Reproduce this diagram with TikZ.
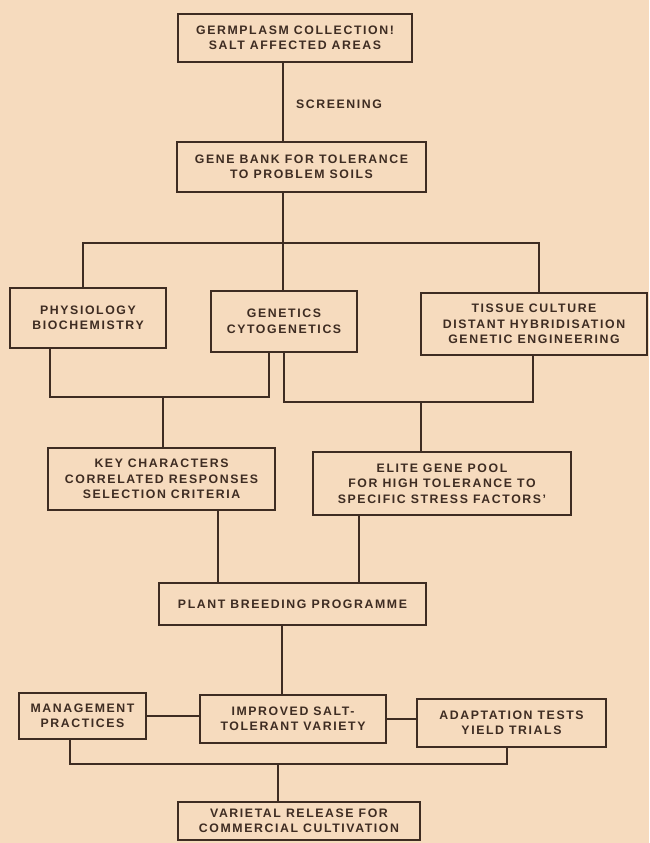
\documentclass[tikz,border=0pt]{standalone}
\usepackage{fontspec}
\setmainfont{Liberation Sans}[LetterSpace=13]
\definecolor{paper}{RGB}{246,219,190}
\definecolor{ink}{RGB}{62,44,34}
\begin{document}
\begin{tikzpicture}[x=1pt,y=-1pt,
  box/.style={draw=ink, line width=1.6pt, rectangle, inner sep=0pt, align=center,
    text=ink, font=\bfseries\fontsize{12.3}{15.5}\selectfont},
  link/.style={draw=ink, line width=1.4pt},
  lbl/.style={text=ink, font=\bfseries\fontsize{12.3}{15.5}\selectfont}]
\fill[paper] (0,0) rectangle (649,843);
\useasboundingbox (0,0) rectangle (649,843);
% boxes
\node[box, minimum width=234pt, minimum height=48pt] (b1) at (295,38) {GERMPLASM COLLECTION!\\SALT AFFECTED AREAS};
\node[box, minimum width=249pt, minimum height=50pt] (b2) at (301.5,167) {GENE BANK FOR TOLERANCE\\TO PROBLEM SOILS};
\node[box, minimum width=156pt, minimum height=60pt] (phys) at (88,318) {PHYSIOLOGY\\BIOCHEMISTRY};
\node[box, minimum width=146pt, minimum height=61pt] (gen) at (284,321.5) {GENETICS\\CYTOGENETICS};
\node[box, minimum width=226pt, minimum height=62pt] (tis) at (534,324) {TISSUE CULTURE\\DISTANT HYBRIDISATION\\GENETIC ENGINEERING};
\node[box, minimum width=227pt, minimum height=62pt] (key) at (161.5,479) {KEY CHARACTERS\\CORRELATED RESPONSES\\SELECTION CRITERIA};
\node[box, minimum width=258pt, minimum height=63pt] (elite) at (442,483.5) {ELITE GENE POOL\\FOR HIGH TOLERANCE TO\\SPECIFIC STRESS FACTORS'};
\node[box, minimum width=267pt, minimum height=42pt] (plant) at (292.5,604) {PLANT BREEDING PROGRAMME};
\node[box, minimum width=127pt, minimum height=46pt] (mgmt) at (82.5,716) {MANAGEMENT\\PRACTICES};
\node[box, minimum width=186pt, minimum height=48pt] (imp) at (293,719) {IMPROVED SALT-\\TOLERANT VARIETY};
\node[box, minimum width=189pt, minimum height=48pt] (adapt) at (511.5,723) {ADAPTATION TESTS\\YIELD TRIALS};
\node[box, minimum width=242pt, minimum height=38pt] (var) at (299,821) {VARIETAL RELEASE FOR\\COMMERCIAL CULTIVATION};
\node[lbl] (scr) at (339,104) {SCREENING};
% junction coordinates
\coordinate (x0) at (283,0);
\coordinate (hTop) at (0,243);
\coordinate (xl) at (83,0);
\coordinate (xr) at (539,0);
\coordinate (xpl) at (50,0);
\coordinate (xgl) at (269,0);
\coordinate (hL) at (0,397);
\coordinate (xgr) at (284,0);
\coordinate (xtr) at (533,0);
\coordinate (hR) at (0,402);
\coordinate (xk) at (163,0);
\coordinate (xe) at (421,0);
\coordinate (xk2) at (218,0);
\coordinate (xe2) at (359,0);
\coordinate (xp) at (282,0);
\coordinate (xm) at (70,0);
\coordinate (xa) at (507,0);
\coordinate (hB) at (0,764);
\coordinate (xv) at (278,0);
% connectors
\draw[link] (x0 |- b1.south) -- (x0 |- b2.north);
\draw[link] (x0 |- b2.south) -- (x0 |- hTop);
\draw[link] (xl |- phys.north) -- (xl |- hTop) -- (xr |- hTop) -- (xr |- tis.north);
\draw[link] (x0 |- hTop) -- (x0 |- gen.north);
\draw[link] (xpl |- phys.south) -- (xpl |- hL) -- (xgl |- hL) -- (xgl |- gen.south);
\draw[link] (xgr |- gen.south) -- (xgr |- hR) -- (xtr |- hR) -- (xtr |- tis.south);
\draw[link] (xk |- hL) -- (xk |- key.north);
\draw[link] (xe |- hR) -- (xe |- elite.north);
\draw[link] (xk2 |- key.south) -- (xk2 |- plant.north);
\draw[link] (xe2 |- elite.south) -- (xe2 |- plant.north);
\draw[link] (xp |- plant.south) -- (xp |- imp.north);
\draw[link] (mgmt.east) -- (mgmt.east -| imp.west);
\draw[link] (imp.east) -- (imp.east -| adapt.west);
\draw[link] (xm |- mgmt.south) -- (xm |- hB) -- (xa |- hB) -- (xa |- adapt.south);
\draw[link] (xv |- hB) -- (xv |- var.north);
\end{tikzpicture}
\end{document}
